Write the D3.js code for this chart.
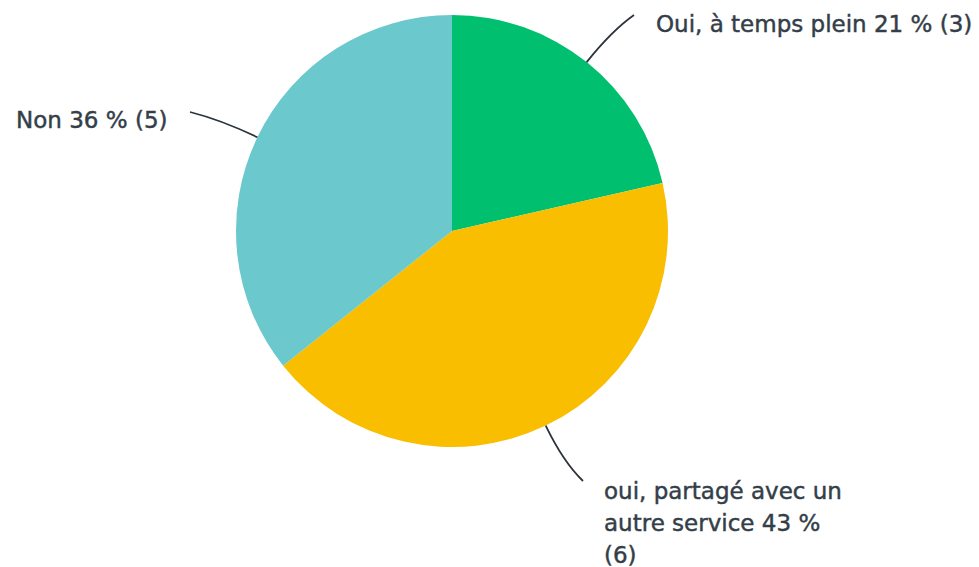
<!DOCTYPE html>
<html>
<head>
<meta charset="utf-8">
<script src="https://cdn.jsdelivr.net/npm/d3@7"></script>
<style>
  body { margin: 0; background: #fff; }
  text { font-family: "DejaVu Sans", sans-serif; font-size: 23px; fill: #333e48; stroke: #333e48; stroke-width: 0.45px; }
</style>
</head>
<body>
<div id="chart"></div>
<script>
// answers and counts, in clockwise order starting at 12 o'clock
var categories = ["Oui, à temps plein", "oui, partagé avec un autre service", "Non"];
var counts = [3, 6, 5];
var colors = ["#00bf6f", "#f9be00", "#6bc8cd"];

var width = 979, height = 567,
    cx = 452, cy = 231,
    radius = 216;

var total = d3.sum(counts);
var data = categories.map(function(c, i) {
  return {label: c, value: counts[i], color: colors[i]};
});

// label anchors (where the leader line ends) and wrap widths
var labelSpots = [
  {end: [634, 15], tx: 656, ty: 32, wrap: 400},
  {end: [583, 481], tx: 604, ty: 499, wrap: 250},
  {end: [190, 112], tx: 16, ty: 128, wrap: 400}
];

var svg = d3.select("#chart")
  .append("svg")
    .attr("width", width)
    .attr("height", height);

var g = svg.append("g")
    .attr("transform", "translate(" + cx + "," + cy + ")");

var pie = d3.pie()
    .sort(null)
    .value(function(d) { return d.value; });

var arc = d3.arc()
    .innerRadius(0)
    .outerRadius(radius);

var arcs = pie(data);

g.selectAll("path.slice")
  .data(arcs)
  .enter()
  .append("path")
    .attr("class", "slice")
    .attr("fill", function(d) { return d.data.color; })
    .attr("d", arc);

// leader lines: from the arc edge at mid angle, bending towards the label
function leader(d, i) {
  var a = (d.startAngle + d.endAngle) / 2;
  var x0 = radius * Math.sin(a), y0 = -radius * Math.cos(a);
  var x1 = (radius + 40) * Math.sin(a), y1 = -(radius + 40) * Math.cos(a);
  var e = labelSpots[i].end;
  var path = d3.path();
  path.moveTo(x0, y0);
  path.quadraticCurveTo(x1, y1, e[0] - cx, e[1] - cy);
  return path.toString();
}

g.selectAll("path.leader")
  .data(arcs)
  .enter()
  .append("path")
    .attr("class", "leader")
    .attr("fill", "none")
    .attr("stroke", "#2b333b")
    .attr("stroke-width", 1.8)
    .attr("d", leader);

// labels, wrapped word by word
var labels = svg.selectAll("text.label")
  .data(arcs)
  .enter()
  .append("text")
    .attr("class", "label")
    .attr("x", function(d, i) { return labelSpots[i].tx; })
    .attr("y", function(d, i) { return labelSpots[i].ty; });

labels.each(function(d, i) {
  var t = d3.select(this);
  var pct = Math.round(d.data.value / total * 100);
  var words = (d.data.label + " " + pct + "\u00a0% (" + d.data.value + ")").split(" ");
  var line = [];
  var tspan = t.append("tspan").attr("x", labelSpots[i].tx).attr("dy", 0);
  words.forEach(function(w) {
    line.push(w);
    tspan.text(line.join(" "));
    if (tspan.node().getComputedTextLength() > labelSpots[i].wrap && line.length > 1) {
      line.pop();
      tspan.text(line.join(" "));
      line = [w];
      tspan = t.append("tspan").attr("x", labelSpots[i].tx).attr("dy", 32).text(w);
    }
  });
});
</script>
</body>
</html>
